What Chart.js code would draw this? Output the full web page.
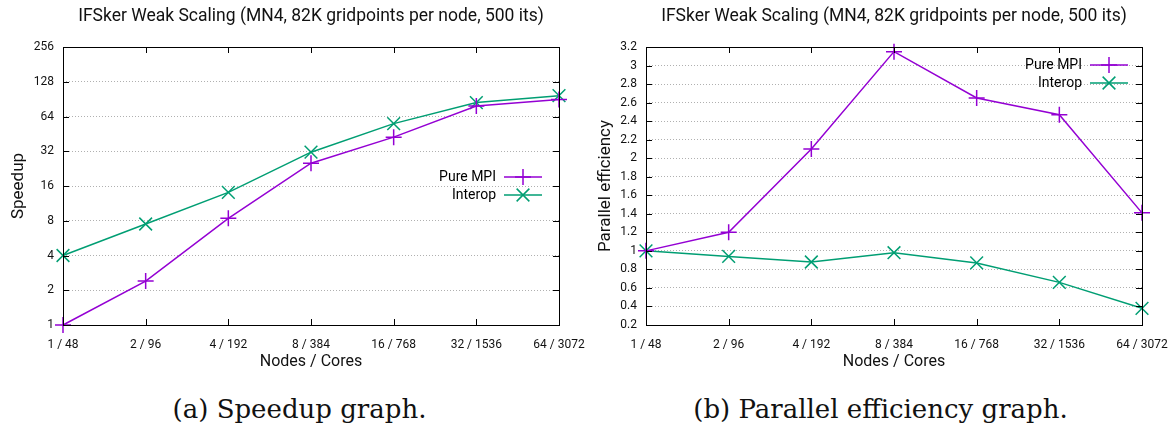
<!DOCTYPE html>
<html>
<head>
<meta charset="utf-8">
<script src="https://cdn.jsdelivr.net/npm/chart.js@4/dist/chart.umd.min.js"></script>
<style>
  body { margin: 0; background: #fff; width: 1174px; height: 428px; overflow: hidden; }
  .row { display: flex; }
  .box { position: relative; width: 587px; height: 375px; }
  .cap { width: 587px; box-sizing: border-box; text-align: center; font-family: "DejaVu Serif", serif; font-size: 26px; color: #111; margin-top: 19px; line-height: 30px; }
  .cap.a { padding-left: 12px; }
</style>
</head>
<body>
<div class="row">
  <div class="box"><canvas id="speedup"></canvas></div>
  <div class="box"><canvas id="efficiency"></canvas></div>
</div>
<div class="row">
  <div class="cap a">(a) Speedup graph.</div>
  <div class="cap">(b) Parallel efficiency graph.</div>
</div>
<script>
const labels = ['1 / 48', '2 / 96', '4 / 192', '8 / 384', '16 / 768', '32 / 1536', '64 / 3072'];
const speedupMPI = [1, 2.4, 8.4, 25.2, 42.4, 79, 90];
const speedupInterop = [4, 7.5, 14.1, 31.4, 55.5, 84.5, 97];
const effMPI = [1, 1.2, 2.1, 3.15, 2.65, 2.47, 1.41];
const effInterop = [1, 0.94, 0.88, 0.98, 0.87, 0.66, 0.38];
const speedupTicks = [1, 2, 4, 8, 16, 32, 64, 128, 256];
const effTicks = [0.2, 0.4, 0.6, 0.8, 1, 1.2, 1.4, 1.6, 1.8, 2, 2.2, 2.4, 2.6, 2.8, 3, 3.2];
const seriesNames = ['Pure MPI', 'Interop'];

const PURPLE = '#9400d3';
const GREEN = '#009e73';
const FONT = 'Roboto';

// gnuplot style frame: full box, inward ticks on every side, inner legend
const framePlugin = {
  id: 'frame',
  afterDatasetsDraw(chart, args, opts) {
    const { ctx, chartArea: a, scales } = chart;
    ctx.save();
    ctx.strokeStyle = '#000';
    ctx.lineWidth = 1;
    ctx.strokeRect(Math.round(a.left) + 0.5, Math.round(a.top) + 0.5,
      Math.round(a.right - a.left), Math.round(a.bottom - a.top));
    ctx.beginPath();
    scales.x.ticks.forEach((t, i) => {
      const x = Math.round(scales.x.getPixelForTick(i)) + 0.5;
      ctx.moveTo(x, a.bottom); ctx.lineTo(x, a.bottom - 6);
      ctx.moveTo(x, a.top); ctx.lineTo(x, a.top + 6);
    });
    scales.y.ticks.forEach((t) => {
      const y = Math.round(scales.y.getPixelForValue(t.value)) + 0.5;
      ctx.moveTo(a.left, y); ctx.lineTo(a.left + 6, y);
      ctx.moveTo(a.right, y); ctx.lineTo(a.right - 6, y);
    });
    ctx.stroke();

    // legend
    const lx = a.right - opts.right;
    let ly = a.top + opts.top;
    ctx.font = '14px ' + FONT;
    ctx.textAlign = 'right';
    ctx.textBaseline = 'middle';
    chart.data.datasets.forEach((ds) => {
      ctx.fillStyle = '#000';
      ctx.fillText(ds.label, lx - 46, ly);
      ctx.strokeStyle = ds.borderColor;
      ctx.lineWidth = 1.5;
      ctx.beginPath();
      ctx.moveTo(lx - 38, ly); ctx.lineTo(lx, ly);
      ctx.stroke();
      Chart.helpers.drawPoint(ctx, {
        pointStyle: ds.pointStyle, radius: ds.pointRadius, rotation: 0, borderWidth: 1.5
      }, lx - 19, ly);
      ly += 18;
    });
    ctx.restore();
  }
};

function makeDatasets(a, b) {
  return [
    { label: seriesNames[0], data: a, borderColor: PURPLE, backgroundColor: PURPLE,
      pointStyle: 'cross', pointRadius: 8, pointBorderWidth: 1.5, borderWidth: 1.5, tension: 0, clip: false },
    { label: seriesNames[1], data: b, borderColor: GREEN, backgroundColor: GREEN,
      pointStyle: 'crossRot', pointRadius: 9, pointBorderWidth: 1.5, borderWidth: 1.5, tension: 0, clip: false }
  ];
}

function makeOptions(yTitle, yAxis, yWidth, padRight, legendPos) {
  return {
    responsive: true,
    maintainAspectRatio: false,
    animation: false,
    layout: { padding: 0 },
    plugins: {
      legend: { display: false },
      tooltip: { enabled: false },
      title: {
        display: true,
        fullSize: false,
        text: 'IFSker Weak Scaling (MN4, 82K gridpoints per node, 500 its)',
        color: '#111',
        font: { family: FONT, size: 17.5, weight: 'normal' },
        padding: { top: 6, bottom: 20 }
      },
      frame: legendPos
    },
    scales: {
      x: {
        type: 'category',
        offset: false,
        grid: { display: false, drawTicks: false },
        border: { display: false },
        ticks: { color: '#111', font: { family: FONT, size: 12 }, padding: 13, maxRotation: 0, autoSkip: false },
        title: { display: true, text: 'Nodes / Cores', color: '#111', font: { family: FONT, size: 16 }, padding: { top: 0, bottom: 3 } },
        afterFit(scale) { scale.height = 50; scale.paddingRight = padRight; }
      },
      y: Object.assign({
        // dotted horizontal grid
        grid: { color: '#b0b0b0', lineWidth: 1, drawTicks: false },
        border: { display: false, dash: [1, 2] },
        title: { display: true, text: yTitle, color: '#111', font: { family: FONT, size: 17 }, padding: { top: 9, bottom: 0 } },
        afterFit(scale) { scale.width = yWidth; }
      }, yAxis)
    }
  };
}

new Chart(document.getElementById('speedup'), {
  type: 'line',
  data: { labels: labels, datasets: makeDatasets(speedupMPI, speedupInterop) },
  options: makeOptions('Speedup', {
    type: 'logarithmic',
    min: 1,
    max: 256,
    afterBuildTicks(scale) { scale.ticks = speedupTicks.map(v => ({ value: v })); },
    ticks: { color: '#111', font: { family: FONT, size: 12 }, padding: 9, callback: v => String(v) }
  }, 63, 28, { right: 17, top: 130 }),
  plugins: [framePlugin]
});

new Chart(document.getElementById('efficiency'), {
  type: 'line',
  data: { labels: labels, datasets: makeDatasets(effMPI, effInterop) },
  options: makeOptions('Parallel efficiency', {
    type: 'linear',
    min: 0.2,
    max: 3.2,
    afterBuildTicks(scale) { scale.ticks = effTicks.map(v => ({ value: v })); },
    ticks: { color: '#111', font: { family: FONT, size: 12 }, padding: 9, callback: v => String(Math.round(v * 10) / 10) }
  }, 59, 32, { right: 14, top: 18 }),
  plugins: [framePlugin]
});
</script>
</body>
</html>
